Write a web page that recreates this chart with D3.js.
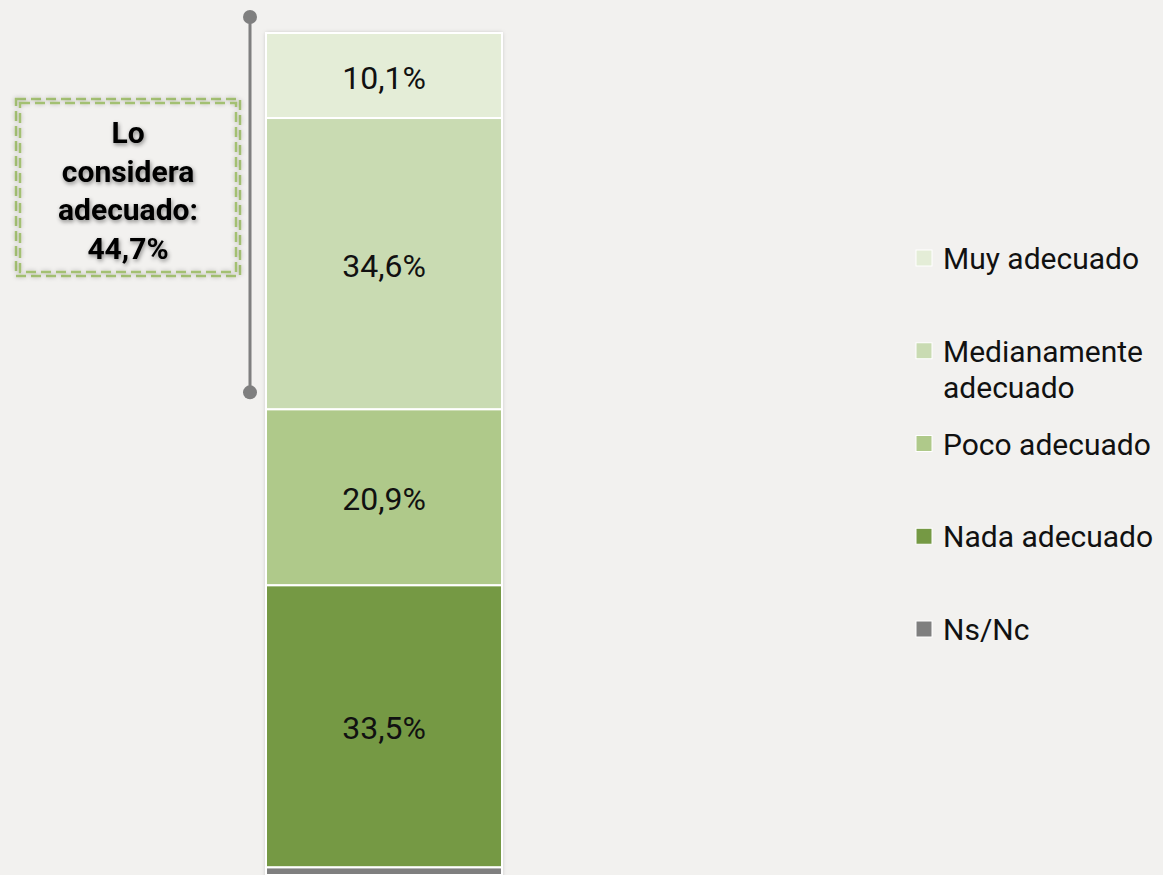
<html><head>
<meta charset="utf-8">
<script src="https://d3js.org/d3.v7.min.js"></script>
<style>
  body { margin: 0; background: #f2f1ef; }
  svg { display: block; font-family: Roboto, "Noto Sans", sans-serif; }
  text.seg { font-size: 32px; fill: #111; text-anchor: middle; }
  text.leg { font-size: 30px; fill: #111; }
  text.note { font-size: 30px; font-weight: bold; fill: #000; text-anchor: middle; }
</style>
</head>
<body>
<svg id="chart" width="1163" height="875"></svg>
<script>
// data
const categories = ["Muy adecuado", "Medianamente adecuado", "Poco adecuado", "Nada adecuado", "Ns/Nc"];
const values = [10.1, 34.6, 20.9, 33.5, 0.9];
const colors = ["#e4edd7", "#c9dbb2", "#afc98a", "#759944", "#7f7f7f"];
const legendLines = [["Muy adecuado"], ["Medianamente", "adecuado"], ["Poco adecuado"], ["Nada adecuado"], ["Ns/Nc"]];
const noteLines = ["Lo", "considera", "adecuado:", "44,7%"];
const adecuadoTotal = 44.7;

const svg = d3.select("#chart");

// filters for soft shadows
const defs = svg.append("defs");
const sh = defs.append("filter").attr("id", "shadow").attr("x", "-20%").attr("y", "-20%").attr("width", "140%").attr("height", "140%");
sh.append("feDropShadow").attr("dx", 0).attr("dy", 0).attr("stdDeviation", 2).attr("flood-color", "#000").attr("flood-opacity", 0.25);
const tsh = defs.append("filter").attr("id", "tshadow").attr("x", "-20%").attr("y", "-20%").attr("width", "140%").attr("height", "160%");
tsh.append("feDropShadow").attr("dx", 1).attr("dy", 2).attr("stdDeviation", 2).attr("flood-color", "#000").attr("flood-opacity", 0.45);

// scales
const y = d3.scaleLinear().domain([0, 100]).range([33, 875]);
const x = d3.scaleBand().domain(["total"]).range([266, 502]).padding(0);

// stacked from top
let acc = 0;
const segs = values.map((v, i) => {
  const s = { cat: categories[i], v: v, y0: acc, y1: acc + v, color: colors[i] };
  acc += v;
  return s;
});

const bar = svg.append("g");
bar.append("rect")
  .attr("x", x("total")).attr("width", x.bandwidth())
  .attr("y", y(0)).attr("height", y(100) - y(0) + 10)
  .attr("fill", "#fff").attr("filter", "url(#shadow)");

bar.selectAll("rect.seg").data(segs).join("rect")
  .attr("class", "seg")
  .attr("x", x("total")).attr("width", x.bandwidth())
  .attr("y", d => y(d.y0)).attr("height", d => y(d.y1) - y(d.y0))
  .attr("fill", d => d.color)
  .attr("stroke", "#fff").attr("stroke-width", 2);

bar.selectAll("text.seg").data(segs.filter(d => d.v > 5)).join("text")
  .attr("class", "seg")
  .attr("x", x("total") + x.bandwidth() / 2)
  .attr("y", d => y((d.y0 + d.y1) / 2) + 13)
  .text(d => d.v.toFixed(1).replace(".", ",") + "%");

// bracket for "adecuado"
const bx = 250;
const bTop = y(0) - 16, bBot = y(adecuadoTotal) - 17;
svg.append("line").attr("x1", bx).attr("x2", bx).attr("y1", bTop).attr("y2", bBot)
  .attr("stroke", "#7f7f7f").attr("stroke-width", 3);
svg.selectAll("circle.end").data([bTop, bBot]).join("circle")
  .attr("class", "end").attr("cx", bx).attr("cy", d => d).attr("r", 7).attr("fill", "#7f7f7f");

// annotation box
const note = svg.append("g");
[[16, 99, 224, 177], [20, 103, 216, 169]].forEach(r => {
  note.append("rect").attr("x", r[0]).attr("y", r[1]).attr("width", r[2]).attr("height", r[3])
    .attr("fill", "none").attr("stroke", "#a3c072").attr("stroke-width", 2.5)
    .attr("stroke-dasharray", "10,5").attr("filter", "url(#shadow)");
});
note.selectAll("text.note").data(noteLines).join("text")
  .attr("class", "note").attr("x", 128).attr("y", (d, i) => 143 + i * 38.5)
  .attr("filter", "url(#tshadow)")
  .text(d => d);

// legend
const legY = d3.scalePoint().domain(categories).range([258, 629]);
const leg = svg.append("g");
const item = leg.selectAll("g").data(categories).join("g")
  .attr("transform", d => `translate(916,${legY(d)})`);
item.append("rect").attr("x", 0).attr("y", -8).attr("width", 16).attr("height", 16)
  .attr("fill", (d, i) => colors[i]).attr("stroke", "#fff").attr("stroke-width", 1);
item.each(function(d, i) {
  const t = d3.select(this).append("text").attr("class", "leg");
  legendLines[i].forEach((ln, j) => {
    t.append("tspan").attr("x", 27).attr("y", 11 + j * 36).text(ln);
  });
});
</script>
</body>
</html>
